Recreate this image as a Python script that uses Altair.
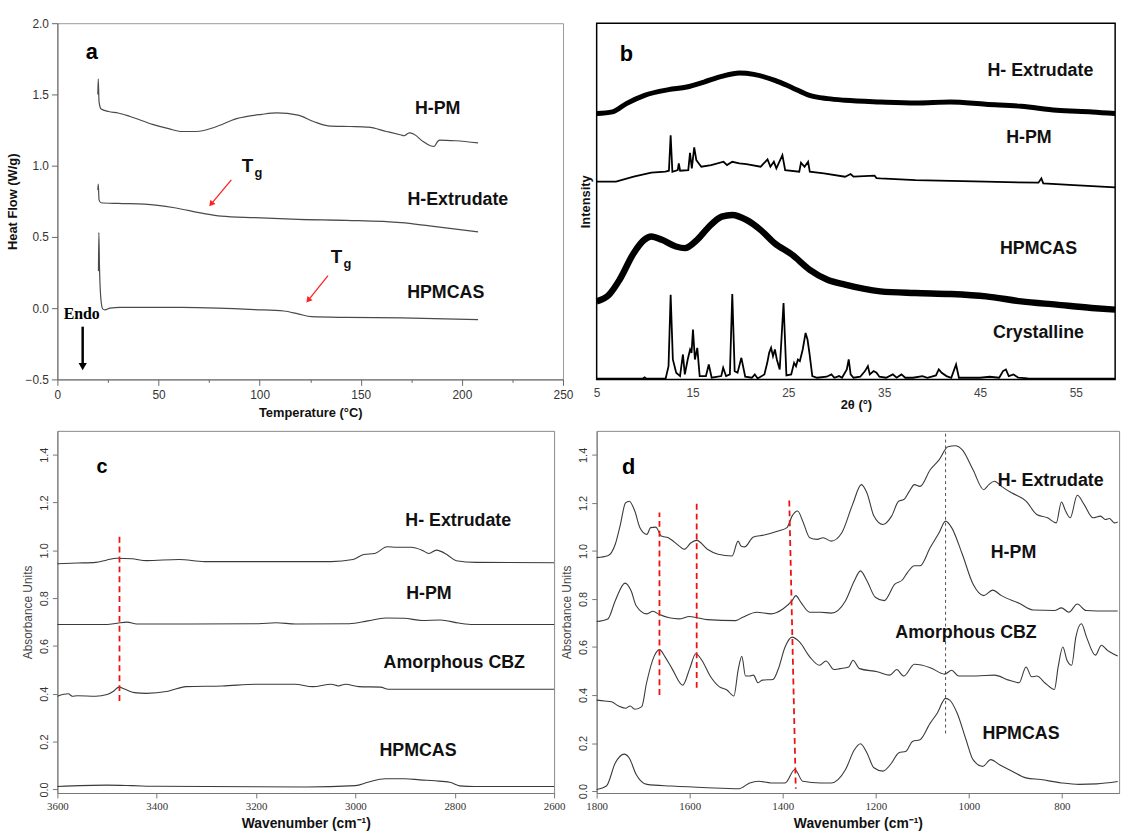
import altair as alt
import pandas as pd

FONT = "Liberation Sans"

# ---------------- Panel a : DSC ----------------
a_hpm_t = [20.0, 20.2, 20.6, 21.5, 25.3, 30, 36, 47, 55, 61.5, 68.7, 77.8, 88.6, 101, 108.5, 119, 126.6,
           133.8, 144.7, 153.7, 162.7, 170, 171.4, 174, 176.3, 180.8, 184.4, 186.3, 188, 189, 197, 208]
a_hpm_v = [1.50, 1.61, 1.45, 1.40, 1.38, 1.37, 1.345, 1.29, 1.26, 1.24, 1.24, 1.27, 1.33, 1.36, 1.37, 1.355, 1.31,
           1.28, 1.275, 1.27, 1.24, 1.215, 1.21, 1.23, 1.22, 1.17, 1.14, 1.135, 1.17, 1.18, 1.175, 1.16]
a_ext_t = [20.0, 20.2, 20.6, 21.5, 30, 43, 57.9, 72, 81, 97.6, 119, 143, 170, 184, 208]
a_ext_v = [0.83, 0.87, 0.76, 0.74, 0.735, 0.73, 0.705, 0.665, 0.646, 0.635, 0.623, 0.616, 0.6, 0.577, 0.535]
a_hp_t = [20.3, 20.5, 20.8, 21.6, 22.4, 23.5, 26, 31, 61.5, 79.6, 97.6, 112, 119, 125.7, 143, 170, 208]
a_hp_v = [0.26, 0.53, 0.30, 0.05, -0.005, -0.012, 0.0, 0.005, 0.005, 0.0, -0.01, -0.02, -0.04, -0.06, -0.065,
          -0.068, -0.08]
a_lab_x = [188, 198, 192]
a_lab_y = [1.40, 0.756, 0.105]
a_lab_t = ["H-PM", "H-Extrudate", "HPMCAS"]
a_tg_x = [94, 138]
a_tg_y = [1.0, 0.36]
a_arrow_x = [86, 133.8]
a_arrow_y = [0.90, 0.228]
a_arrow_x2 = [76, 124]
a_arrow_y2 = [0.73, 0.055]
a_xticks = [0, 12.5, 25, 37.5, 50, 62.5, 75, 87.5, 100, 112.5, 125, 137.5, 150, 162.5, 175, 187.5, 200,
            212.5, 225, 237.5, 250]
a_yticks = [-0.5, -0.25, 0.0, 0.25, 0.5, 0.75, 1.0, 1.25, 1.5, 1.75, 2.0]

# ---------------- Panel b : XRD ----------------
b_ext_x = [5, 6.65, 8.1, 10, 12.5, 14.4, 16.2, 18.05, 19.9, 21.4, 23.6, 25.4, 27.2, 29.1, 30.9, 34.6, 38.3,
           41.9, 45.6, 49.3, 53, 56.7, 59.1]
b_ext_y = [800, 805, 830, 855, 872, 880, 895, 912, 922, 918, 900, 878, 855, 845, 840, 835, 832, 835, 828, 822,
           810, 805, 800]
b_pm_x = [5.0, 7.02, 8.86, 10.7, 12.17, 12.54, 12.72, 12.9, 13.46, 13.57, 13.71, 14.56, 14.74, 14.93, 15.18,
          15.4, 15.66, 15.92, 16.95, 18.24, 18.6, 19.15, 19.89, 20.63, 22.1, 22.83, 23.13, 23.49, 23.75, 24.38,
          24.67, 26.14, 26.32, 26.69, 27.06, 27.24, 28.71, 30.92, 31.5, 31.8, 34.0, 34.2, 34.6, 38.27, 45.6,
          51.1, 51.4, 51.6, 54.8, 59.1]
b_pm_y = [595, 595, 610, 622, 625, 628, 735, 625, 630, 650, 628, 630, 682, 635, 698, 660, 650, 640, 645, 655,
          645, 655, 650, 648, 640, 662, 640, 655, 635, 675, 630, 625, 652, 640, 655, 625, 620, 610, 618, 610,
          613, 606, 605, 600, 595, 592, 605, 590, 585, 578]
b_hp_x = [5, 6.29, 7.39, 8.86, 9.96, 10.7, 11.8, 13.27, 14.19, 15.48, 16.58, 18.05, 19.15, 20.63, 22.1, 23.57,
          25.4, 27.24, 29.08, 30.92, 34.6, 38.27, 41.95, 45.63, 49.3, 52.98, 56.65, 59.1]
b_hp_y = [235, 255, 300, 380, 420, 430, 420, 400, 395, 420, 455, 490, 495, 480, 450, 410, 375, 330, 300, 285,
          265, 260, 257, 250, 235, 225, 215, 210]
b_cr_x = [5, 9.8, 10.0, 10.2, 12.2, 12.5, 12.72, 12.95, 13.3, 13.7, 14.0, 14.2, 14.5, 14.75, 14.9, 15.05,
          15.25, 15.5, 15.75, 16.4, 16.7, 17.0, 18.0, 18.2, 18.5, 18.9, 19.15, 19.4, 19.7, 20.1, 20.5, 21.2,
          21.5, 21.8, 22.5, 22.8, 23.0, 23.2, 23.4, 23.6, 23.8, 24.1, 24.5, 24.8, 25.3, 25.6, 25.8, 26.0, 26.2,
          26.5, 26.8, 27.0, 27.2, 27.5, 28.0, 29.0, 29.5, 29.8, 30.3, 30.6, 31.1, 31.3, 31.5, 31.8, 32.5, 33.0,
          33.3, 33.5, 33.9, 34.2, 34.5, 35.2, 35.9, 36.3, 36.8, 37.2, 38.0, 39.0, 39.5, 40.4, 40.7, 41.0, 41.5,
          42.0, 42.5, 42.8, 45.0, 46.0, 47.0, 47.4, 47.7, 48.0, 48.5, 49.0, 50.0, 59.1]
b_cr_y = [2, 2, 6, 2, 3, 40, 255, 60, 20, 10, 75, 15, 60, 90, 80, 150, 60, 95, 10, 10, 45, 5, 10, 35, 10, 15,
          257, 25, 20, 65, 8, 5, 15, 3, 15, 50, 80, 95, 70, 90, 60, 30, 230, 12, 15, 50, 40, 60, 55, 90, 140,
          120, 80, 10, 5, 8, 15, 5, 10, 5, 30, 60, 15, 5, 8, 25, 40, 15, 25, 20, 8, 5, 15, 5, 15, 5, 5, 10, 5,
          12, 30, 20, 10, 5, 45, 5, 5, 8, 5, 25, 30, 10, 15, 5, 3, 2]
b_lab_x = [51.3, 50.1, 51.1, 51.1]
b_lab_y = [928, 725, 392, 140]
b_lab_t = ["H- Extrudate", "H-PM", "HPMCAS", "Crystalline"]
b_xticks = [5, 15, 25, 35, 45, 55]

# ---------------- Panel c : FTIR 3600-2600 ----------------
c_ext_x = [3600, 3560, 3523, 3500, 3480, 3450, 3421, 3355, 3304, 3195, 3049, 3005, 2983, 2961, 2936, 2918,
           2888, 2866, 2852, 2837, 2814, 2797, 2757, 2600]
c_ext_y = [0.944, 0.947, 0.95, 0.96, 0.967, 0.965, 0.957, 0.962, 0.953, 0.953, 0.953, 0.962, 0.983, 0.987,
           1.015, 1.013, 1.013, 1.001, 0.987, 1.001, 0.98, 0.957, 0.95, 0.948]
c_pm_x = [3600, 3500, 3480, 3460, 3440, 3195, 3160, 3120, 3012, 2975, 2939, 2902, 2866, 2829, 2792, 2763, 2600]
c_pm_y = [0.69, 0.69, 0.695, 0.70, 0.692, 0.693, 0.697, 0.692, 0.693, 0.705, 0.717, 0.716, 0.707, 0.709,
          0.696, 0.69, 0.69]
c_cbz_x = [3600, 3578, 3570, 3560, 3523, 3500, 3487, 3476, 3465, 3445, 3421, 3377, 3341, 3268, 3195, 3122,
           3086, 3049, 3034, 3020, 2993, 2949, 2934, 2600]
c_cbz_y = [0.39, 0.40, 0.39, 0.392, 0.39, 0.397, 0.411, 0.428, 0.42, 0.405, 0.402, 0.411, 0.43, 0.433, 0.44,
           0.44, 0.43, 0.44, 0.433, 0.44, 0.43, 0.428, 0.419, 0.419]
c_hp_x = [3600, 3500, 3450, 3400, 3100, 3000, 2975, 2940, 2900, 2870, 2840, 2810, 2790, 2760, 2600]
c_hp_y = [0.012, 0.018, 0.016, 0.013, 0.010, 0.016, 0.03, 0.045, 0.045, 0.04, 0.036, 0.03, 0.015, 0.012, 0.012]
c_lab_x = [2793, 2852, 2801, 2874]
c_lab_y = [1.124, 0.817, 0.527, 0.16]
c_lab_t = ["H- Extrudate", "H-PM", "Amorphous CBZ", "HPMCAS"]
c_red_x = [3475]
c_red_y = [0.37]
c_red_y2 = [1.06]
c_xticks = [3600, 3400, 3200, 3000, 2800, 2600]
ir_yticks = [0.0, 0.2, 0.4, 0.6, 0.8, 1.0, 1.2, 1.4]

# ---------------- Panel d : FTIR 1800-680 ----------------
d_ext_x = [1800, 1776, 1760, 1749, 1738, 1730, 1718, 1707, 1692, 1684, 1673, 1661, 1646, 1623, 1612, 1597,
           1585, 1562, 1539, 1509, 1496, 1490, 1482, 1463, 1440, 1410, 1391, 1380, 1368, 1357, 1342, 1326,
           1313, 1296, 1273, 1250, 1231, 1219, 1204, 1185, 1166, 1151, 1140, 1128, 1117, 1105, 1083, 1064,
           1045, 1029, 1014, 991, 968, 957, 945, 930, 907, 877, 854, 831, 812, 801, 792, 782, 767, 752, 733,
           717, 706, 698, 687, 680]
d_ext_y = [0.972, 0.98, 1.028, 1.11, 1.2, 1.207, 1.166, 1.097, 1.069, 1.097, 1.099, 1.062, 1.055, 1.021,
           1.007, 1.034, 1.044, 1.007, 0.986, 0.979, 1.041, 1.021, 1.017, 1.058, 1.066, 1.083, 1.097, 1.145,
           1.166, 1.124, 1.055, 1.048, 1.055, 1.041, 1.076, 1.193, 1.276, 1.241, 1.145, 1.11, 1.145, 1.207,
           1.214, 1.248, 1.276, 1.269, 1.338, 1.379, 1.434, 1.438, 1.421, 1.338, 1.255, 1.276, 1.29, 1.269,
           1.241, 1.207, 1.152, 1.138, 1.117, 1.204, 1.166, 1.138, 1.232, 1.193, 1.138, 1.145, 1.131, 1.135,
           1.117, 1.121]
d_pm_x = [1800, 1776, 1760, 1739, 1726, 1715, 1692, 1679, 1665, 1623, 1600, 1589, 1562, 1501, 1486, 1456,
          1425, 1399, 1380, 1372, 1361, 1342, 1319, 1296, 1265, 1246, 1233, 1219, 1201, 1182, 1159, 1143, 1132,
          1117, 1105, 1083, 1064, 1050, 1037, 1014, 991, 968, 949, 930, 892, 862, 816, 801, 785, 767, 748, 725,
          680]
d_pm_y = [0.706, 0.717, 0.793, 0.866, 0.834, 0.772, 0.738, 0.749, 0.735, 0.717, 0.727, 0.724, 0.714, 0.71,
          0.724, 0.745, 0.738, 0.759, 0.793, 0.814, 0.786, 0.745, 0.745, 0.741, 0.793, 0.876, 0.917, 0.876,
          0.807, 0.793, 0.862, 0.879, 0.91, 0.938, 0.938, 1.014, 1.076, 1.124, 1.097, 0.986, 0.862, 0.814,
          0.837, 0.814, 0.782, 0.754, 0.752, 0.763, 0.745, 0.779, 0.752, 0.75, 0.75]
d_cbz_x = [1800, 1783, 1768, 1753, 1738, 1728, 1718, 1703, 1693, 1677, 1665, 1653, 1638, 1615, 1600, 1587,
           1574, 1555, 1536, 1520, 1505, 1496, 1488, 1480, 1471, 1463, 1453, 1444, 1421, 1410, 1395, 1380,
           1364, 1342, 1321, 1307, 1290, 1277, 1258, 1249, 1235, 1197, 1170, 1155, 1140, 1117, 1083, 1052,
           1037, 1022, 984, 945, 914, 892, 877, 865, 854, 835, 816, 808, 798, 789, 779, 770, 758, 747, 728,
           715, 702, 690, 680]
d_cbz_y = [0.379, 0.375, 0.372, 0.354, 0.345, 0.354, 0.341, 0.352, 0.448, 0.559, 0.589, 0.559, 0.51, 0.441,
           0.51, 0.572, 0.545, 0.476, 0.434, 0.421, 0.396, 0.503, 0.561, 0.479, 0.479, 0.483, 0.451, 0.462,
           0.465, 0.506, 0.6, 0.641, 0.621, 0.559, 0.524, 0.542, 0.506, 0.51, 0.517, 0.545, 0.51, 0.497, 0.483,
           0.506, 0.479, 0.528, 0.514, 0.487, 0.503, 0.479, 0.479, 0.483, 0.462, 0.451, 0.517, 0.476, 0.479,
           0.448, 0.423, 0.517, 0.6, 0.545, 0.524, 0.641, 0.697, 0.641, 0.566, 0.607, 0.586, 0.572, 0.562]
d_hp_x = [1800, 1779, 1760, 1741, 1730, 1715, 1692, 1639, 1562, 1494, 1471, 1452, 1425, 1395, 1374, 1357,
          1319, 1296, 1265, 1246, 1233, 1219, 1204, 1185, 1166, 1151, 1135, 1121, 1105, 1083, 1068, 1050, 1041,
          1025, 1006, 991, 970, 953, 934, 907, 877, 846, 801, 763, 725, 680]
d_hp_y = [0.007, 0.021, 0.117, 0.154, 0.138, 0.069, 0.028, 0.021, 0.014, 0.01, 0.034, 0.041, 0.034, 0.034,
          0.09, 0.041, 0.034, 0.034, 0.09, 0.172, 0.197, 0.159, 0.097, 0.083, 0.117, 0.159, 0.166, 0.207, 0.214,
          0.283, 0.324, 0.386, 0.379, 0.324, 0.214, 0.131, 0.103, 0.131, 0.11, 0.083, 0.055, 0.048, 0.034,
          0.028, 0.03, 0.04]
d_lab_x = [824, 904, 1006, 888]
d_lab_y = [1.292, 0.993, 0.659, 0.239]
d_lab_t = ["H- Extrudate", "H-PM", "Amorphous CBZ", "HPMCAS"]
d_red_x = [1665, 1585, 1386]
d_red_x2 = [1665, 1585, 1372]
d_red_y = [0.40, 0.43, 1.21]
d_red_y2 = [1.16, 1.20, 0.01]
d_blk_x = [1050]
d_blk_y = [0.24]
d_blk_y2 = [1.5]
d_xticks = [1800, 1600, 1400, 1200, 1000, 800]


def lines(series):
    rows = []
    for name, xs, ys in series:
        for i, (x, y) in enumerate(zip(xs, ys)):
            rows.append({"s": name, "x": x, "y": y, "i": i})
    return pd.DataFrame(rows)


def labels(xs, ys, ts):
    return pd.DataFrame({"x": xs, "y": ys, "t": ts})


def tx(df, scx, scy, **kw):
    return alt.Chart(df).mark_text(**kw).encode(
        x=alt.X("x:Q", scale=scx), y=alt.Y("y:Q", scale=scy), text="t:N")


# ---------- panel a ----------
xa = alt.Scale(domain=[0, 250], nice=False, zero=False)
ya = alt.Scale(domain=[-0.5, 2.0], nice=False, zero=False)
ax_xa = alt.Axis(values=a_xticks, title="Temperature (°C)", grid=False,
                 labelExpr="datum.value % 50 == 0 ? datum.label : ''",
                 tickSize={"condition": {"test": "datum.value % 50 == 0", "value": 6}, "value": 3},
                 labelFont=FONT, labelFontSize=12, labelColor="#333", titleFont=FONT, titleFontSize=13,
                 titleFontWeight="bold", titleColor="#111", domainColor="#666", tickColor="#666",
                 labelPadding=4, titlePadding=6, labelOverlap=False, labelFlush=False)
ax_ya = alt.Axis(values=a_yticks, title="Heat Flow (W/g)", grid=False, format=".1f",
                 labelExpr="abs(datum.value*2 - round(datum.value*2)) < 0.01 ? datum.label : ''",
                 tickSize={"condition": {"test": "abs(datum.value*2 - round(datum.value*2)) < 0.01",
                                         "value": 6}, "value": 3},
                 labelFont=FONT, labelFontSize=12, labelColor="#333", titleFont=FONT, titleFontSize=13,
                 titleFontWeight="bold", titleColor="#111", domainColor="#666", tickColor="#666",
                 labelPadding=3, titlePadding=6, labelOverlap=False, labelFlush=False)

df_a = lines([("H-PM", a_hpm_t, a_hpm_v), ("H-Extrudate", a_ext_t, a_ext_v), ("HPMCAS", a_hp_t, a_hp_v)])
pa_lines = alt.Chart(df_a).mark_line(color="#4a4a4a", strokeWidth=1.2, interpolate="monotone").encode(
    x=alt.X("x:Q", scale=xa, axis=ax_xa), y=alt.Y("y:Q", scale=ya, axis=ax_ya),
    detail="s:N", order="i:Q")

pa_lab = tx(labels(a_lab_x, a_lab_y, a_lab_t), xa, ya, font=FONT, fontSize=18, fontWeight="bold", color="#111")
pa_letter = tx(labels([17], [1.8], ["a"]), xa, ya, font=FONT, fontSize=22, fontWeight="bold", color="#000")
pa_T = tx(labels(a_tg_x, a_tg_y, ["T", "T"]), xa, ya, font=FONT, fontSize=19, fontWeight="bold", color="#111")
pa_g = tx(labels(a_tg_x, a_tg_y, ["g", "g"]), xa, ya, font=FONT, fontSize=13, fontWeight="bold",
          color="#111", dx=11, dy=7)
arrow_df = pd.DataFrame({"x": a_arrow_x, "y": a_arrow_y, "x2": a_arrow_x2, "y2": a_arrow_y2})
pa_arr = alt.Chart(arrow_df).mark_rule(color="#ff2020", strokeWidth=1.3).encode(
    x=alt.X("x:Q", scale=xa), y=alt.Y("y:Q", scale=ya), x2="x2:Q", y2="y2:Q")
pa_head = alt.Chart(arrow_df).mark_point(shape="triangle-up", filled=True, color="#ff2020", size=45,
                                         angle=220, opacity=1).encode(
    x=alt.X("x2:Q", scale=xa), y=alt.Y("y2:Q", scale=ya))
pa_endo = tx(labels([12], [-0.04], ["Endo"]), xa, ya, font="Liberation Serif", fontSize=16,
             fontWeight="bold", color="#000")
endo_df = pd.DataFrame({"x": [12.5], "y": [-0.13], "y2": [-0.41]})
pa_endo_r = alt.Chart(endo_df).mark_rule(color="#000", strokeWidth=2.5).encode(
    x=alt.X("x:Q", scale=xa), y=alt.Y("y:Q", scale=ya), y2="y2:Q")
pa_endo_h = alt.Chart(endo_df).mark_point(shape="triangle-down", filled=True, color="#000", size=70,
                                          opacity=1).encode(
    x=alt.X("x:Q", scale=xa), y=alt.Y("y2:Q", scale=ya))

pa = alt.layer(pa_lines, pa_lab, pa_letter, pa_T, pa_g, pa_arr, pa_head, pa_endo, pa_endo_r,
               pa_endo_h).properties(width=511, height=360,
                                     view=alt.ViewBackground(stroke="#999", strokeWidth=1))

# ---------- panel b ----------
xb = alt.Scale(domain=[5, 59.1], nice=False, zero=False)
yb = alt.Scale(domain=[0, 1072], nice=False, zero=False)
ax_xb = alt.Axis(values=b_xticks, title="2θ (°)", grid=False, labelFont=FONT, labelFontSize=12,
                 labelColor="#444", titleFont=FONT, titleFontSize=13, titleFontWeight="bold",
                 titleColor="#111", domain=False, ticks=False, labelPadding=8, titlePadding=0,
                 labelFlush=False, labelOverlap=False)
ax_yb = alt.Axis(title="Intensity", grid=False, labels=False, ticks=False, domain=False, titleFont=FONT,
                 titleFontSize=13, titleFontWeight="bold", titleColor="#111", titlePadding=4)
df_b_ext = lines([("H- Extrudate", b_ext_x, b_ext_y)])
df_b_hp = lines([("HPMCAS", b_hp_x, b_hp_y)])
df_b_thin = lines([("H-PM", b_pm_x, b_pm_y), ("Crystalline", b_cr_x, b_cr_y)])
pb_ext = alt.Chart(df_b_ext).mark_line(color="#000", strokeWidth=5, interpolate="monotone").encode(
    x=alt.X("x:Q", scale=xb, axis=ax_xb), y=alt.Y("y:Q", scale=yb, axis=ax_yb), detail="s:N", order="i:Q")
pb_hp = alt.Chart(df_b_hp).mark_line(color="#000", strokeWidth=6.5, interpolate="monotone").encode(
    x=alt.X("x:Q", scale=xb), y=alt.Y("y:Q", scale=yb), detail="s:N", order="i:Q")
pb_thin = alt.Chart(df_b_thin).mark_line(color="#000", strokeWidth=1.8).encode(
    x=alt.X("x:Q", scale=xb), y=alt.Y("y:Q", scale=yb), detail="s:N", order="i:Q")
pb_lab = tx(labels(b_lab_x, b_lab_y, b_lab_t), xb, yb, font=FONT, fontSize=18, fontWeight="bold", color="#111")
pb_letter = tx(labels([8.1], [980], ["b"]), xb, yb, font=FONT, fontSize=22, fontWeight="bold", color="#000")
pb = alt.layer(pb_ext, pb_hp, pb_thin, pb_lab, pb_letter).properties(
    width=524, height=360, view=alt.ViewBackground(stroke="#000", strokeWidth=1.5))

# ---------- panels c, d ----------
yir_c = alt.Scale(domain=[-0.015, 1.5], nice=False, zero=False)
yir_d = alt.Scale(domain=[-0.008, 1.5], nice=False, zero=False)


def ir_axes(xticks):
    axx = alt.Axis(values=xticks, title="Wavenumber (cm⁻¹)", grid=False, format="d",
                   labelFont="Liberation Sans Narrow", labelFontSize=11, labelColor="#333", titleFont=FONT,
                   titleFontSize=14, titleFontWeight="bold", titleColor="#111", domainColor="#777",
                   tickColor="#777", tickSize=5, labelPadding=3, titlePadding=5, labelOverlap=False,
                   labelFlush=False)
    axy = alt.Axis(values=ir_yticks, title="Absorbance Units", grid=False, format=".1f", labelAngle=270,
                   labelAlign="center", labelBaseline="bottom", labelFont=FONT, labelFontSize=11,
                   labelColor="#333", titleFont=FONT, titleFontSize=12, titleFontWeight="normal",
                   titleColor="#444", domainColor="#777", tickColor="#777", tickSize=5, labelPadding=3,
                   titlePadding=4, labelOverlap=False, labelFlush=False)
    return axx, axy


xc = alt.Scale(domain=[3600, 2600], nice=False, zero=False)
axc_x, axc_y = ir_axes(c_xticks)
df_c = lines([("H- Extrudate", c_ext_x, c_ext_y), ("H-PM", c_pm_x, c_pm_y),
              ("Amorphous CBZ", c_cbz_x, c_cbz_y), ("HPMCAS", c_hp_x, c_hp_y)])
pc_lines = alt.Chart(df_c).mark_line(color="#3a3a3a", strokeWidth=1.1, interpolate="monotone").encode(
    x=alt.X("x:Q", scale=xc, axis=axc_x), y=alt.Y("y:Q", scale=yir_c, axis=axc_y), detail="s:N", order="i:Q")
pc_red = alt.Chart(pd.DataFrame({"x": c_red_x, "y": c_red_y, "y2": c_red_y2})).mark_rule(
    color="#ee1111", strokeWidth=1.8, strokeDash=[6, 4]).encode(
    x=alt.X("x:Q", scale=xc), y=alt.Y("y:Q", scale=yir_c), y2="y2:Q")
pc_lab = tx(labels(c_lab_x, c_lab_y, c_lab_t), xc, yir_c, font=FONT, fontSize=18, fontWeight="bold",
            color="#111")
pc_letter = tx(labels([3510], [1.35], ["c"]), xc, yir_c, font=FONT, fontSize=20, fontWeight="bold",
               color="#000")
pc = alt.layer(pc_lines, pc_red, pc_lab, pc_letter).properties(
    width=502, height=366, view=alt.ViewBackground(stroke="#888", strokeWidth=1))

xd = alt.Scale(domain=[1800, 677], nice=False, zero=False)
axd_x, axd_y = ir_axes(d_xticks)
df_d = lines([("H- Extrudate", d_ext_x, d_ext_y), ("H-PM", d_pm_x, d_pm_y),
              ("Amorphous CBZ", d_cbz_x, d_cbz_y), ("HPMCAS", d_hp_x, d_hp_y)])
pd_lines = alt.Chart(df_d).mark_line(color="#3a3a3a", strokeWidth=1.1, interpolate="monotone").encode(
    x=alt.X("x:Q", scale=xd, axis=axd_x), y=alt.Y("y:Q", scale=yir_d, axis=axd_y), detail="s:N", order="i:Q")
pd_red = alt.Chart(pd.DataFrame({"x": d_red_x, "x2": d_red_x2, "y": d_red_y, "y2": d_red_y2})).mark_rule(
    color="#ee1111", strokeWidth=1.8, strokeDash=[6, 4]).encode(
    x=alt.X("x:Q", scale=xd), x2="x2:Q", y=alt.Y("y:Q", scale=yir_d), y2="y2:Q")
pd_blk = alt.Chart(pd.DataFrame({"x": d_blk_x, "y": d_blk_y, "y2": d_blk_y2})).mark_rule(
    color="#222", strokeWidth=0.8, strokeDash=[3, 3]).encode(
    x=alt.X("x:Q", scale=xd), y=alt.Y("y:Q", scale=yir_d), y2="y2:Q")
pd_lab = tx(labels(d_lab_x, d_lab_y, d_lab_t), xd, yir_d, font=FONT, fontSize=18, fontWeight="bold",
            color="#111")
pd_letter = tx(labels([1731], [1.348], ["d"]), xd, yir_d, font=FONT, fontSize=22, fontWeight="bold",
               color="#000")
pdd = alt.layer(pd_lines, pd_blk, pd_red, pd_lab, pd_letter).properties(
    width=528, height=366, view=alt.ViewBackground(stroke="#888", strokeWidth=1))

top = alt.hconcat(pa, pb, spacing=34, bounds="flush")
bottom = alt.hconcat(pc, pdd, spacing=43, bounds="flush")
chart = alt.vconcat(top, bottom, spacing=10).properties(
    padding={"left": 5, "top": 12, "right": 0, "bottom": 0}, background="white"
).configure_view(stroke=None)

chart.save("out.html", embed_options={"renderer": "svg", "actions": False})
